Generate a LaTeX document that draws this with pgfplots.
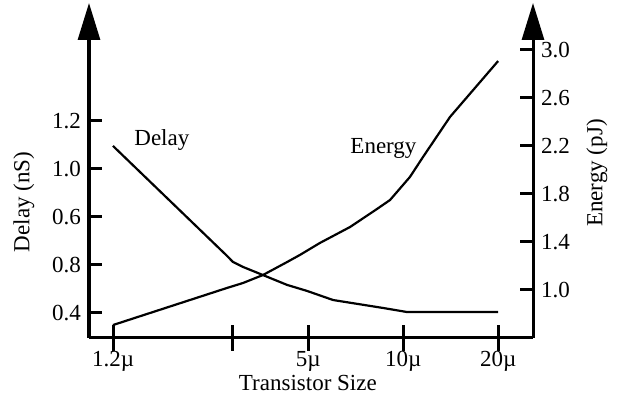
\documentclass[border=0pt]{standalone}
\usepackage{fontspec}
\setmainfont{Liberation Serif}
\usepackage{pgfplots}
\pgfplotsset{compat=1.18}
\usetikzlibrary{arrows.meta}

% delay in nS (left axis), energy in pJ (right axis), size in micron
\pgfplotstableread{
x     y
1.2   1.096
2.76  0.638
2.88  0.613
3.10  0.592
3.59  0.558
4.28  0.517
4.95  0.492
5.99  0.454
8.62  0.421
10.28 0.404
20    0.404
}\delaydata

\pgfplotstableread{
x     y
1.2   0.708
2.76  1.017
3.10  1.058
3.59  1.125
4.28  1.233
4.70  1.292
5.44  1.392
6.78  1.525
8.20  1.670
9.08  1.750
10.5  1.942
11.55 2.108
14.07 2.442
20    2.908
}\energydata

\begin{document}
\fontsize{11.5}{14}\selectfont
\begin{tikzpicture}
    % x axis
    \begin{semilogxaxis}[
        scale only axis, width=222pt, height=167.5pt,
        xmin=1.007, xmax=25.8,
        axis line style={line width=1.5pt},
        tick style={black, line width=1.5pt},
        axis x line*=bottom,
        hide y axis,
        ymin=0, ymax=1,
        xtick={1.2,2.88,5,10,20},
        xticklabels={1.2µ,,5µ,10µ,20µ},
        xticklabel style={yshift=4pt},
        minor xtick={},
        major tick length=13pt,
        tick align=center,
        xlabel={Transistor Size},
        xlabel style={at={(axis description cs:0.493,-0.158)}, anchor=base, inner sep=0pt},
    ]
    \end{semilogxaxis}

    % delay
    \begin{semilogxaxis}[
        scale only axis, width=222pt, height=167.5pt,
        xmin=1.007, xmax=25.8,
        axis line style={line width=1.5pt},
        tick style={black, line width=1.5pt},
        hide x axis,
        axis y line*=left,
        y axis line style={-{Triangle[width=11pt,length=18.5pt]}},
        major tick length=6.5pt,
        tick align=inside,
        ymin=0.2958, ymax=1.6917,
        ytick={0.4,0.6,0.8,1.0,1.2},
        yticklabels={0.4,0.8,0.6,1.0,1.2},
        ylabel={Delay (nS)},
        ylabel style={at={(axis description cs:-0.1464,0.406)}, anchor=center, inner sep=0pt},
    ]
    \addplot[black, line width=1.1pt, no marks, line join=round] table {\delaydata};
    \node[anchor=base west, inner sep=0pt] at (rel axis cs:0.1014,0.576) {Delay};
    \end{semilogxaxis}

    % energy
    \begin{semilogxaxis}[
        scale only axis, width=222pt, height=167.5pt,
        xmin=1.007, xmax=25.8,
        axis line style={line width=1.5pt},
        tick style={black, line width=1.5pt},
        hide x axis,
        axis y line*=right,
        y axis line style={-{Triangle[width=11pt,length=18.5pt]}},
        major tick length=6.5pt,
        tick align=inside,
        ymin=0.6, ymax=3.3917,
        ytick={1.0,1.4,1.8,2.2,2.6,3.0},
        yticklabels={1.0,1.4,1.8,2.2,2.6,3.0},
        ylabel={Energy (pJ)},
        ylabel style={at={(axis description cs:1.144,0.4925)}, anchor=center, inner sep=0pt},
    ]
    \addplot[black, line width=1.1pt, no marks, line join=round] table {\energydata};
    \node[anchor=base west, inner sep=0pt] at (rel axis cs:0.588,0.552) {Energy};
    \end{semilogxaxis}

    \path (-44.5pt,-31pt) rectangle (265.5pt,169pt);
\end{tikzpicture}
\end{document}
